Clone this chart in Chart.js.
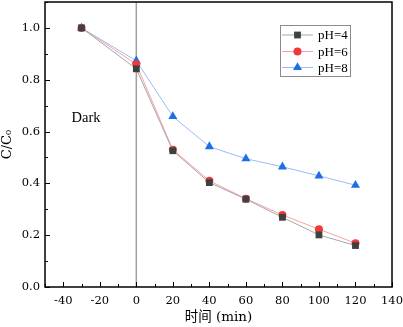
<!DOCTYPE html>
<html>
<head>
<meta charset="utf-8">
<script src="https://cdn.jsdelivr.net/npm/chart.js@4"></script>
<style>
  html, body { margin: 0; padding: 0; background: #fff; }
  #wrap { width: 403px; height: 327px; }
</style>
</head>
<body>
<div id="wrap"><canvas id="chart" width="403" height="327"></canvas></div>
<script>
// time points (min)
const times = [-30, 0, 20, 40, 60, 80, 100, 120];

// C/C0 for each pH
const ph4 = [1.0, 0.842, 0.526, 0.403, 0.339, 0.269, 0.201, 0.160];
const ph6 = [1.0, 0.860, 0.530, 0.410, 0.341, 0.278, 0.223, 0.169];
const ph8 = [1.0, 0.873, 0.658, 0.542, 0.495, 0.464, 0.429, 0.393];

const seriesLabels = ['pH=4', 'pH=6', 'pH=8'];
const xTicks = [-40, -20, 0, 20, 40, 60, 80, 100, 120, 140];
const yTicks = [0, 0.2, 0.4, 0.6, 0.8, 1.0];

const serif = '"DejaVu Serif", "Noto Sans CJK SC", serif';
const times_ = '"Liberation Serif", serif';

function toPoints(vals) {
    return times.map((t, i) => ({x: t, y: vals[i]}));
}

function noPad(s) {
    s.paddingTop = 0;
    s.paddingBottom = 0;
    s.paddingLeft = 0;
    s.paddingRight = 0;
}

// inside ticks, frame, the t=0 line, "Dark" label and legend
const decor = {
    id: 'decor',
    beforeDatasetsDraw(chart) {
        const {ctx, chartArea: a, scales: {x, y}} = chart;
        ctx.save();
        // divider at t = 0
        const x0 = x.getPixelForValue(0);
        ctx.strokeStyle = '#a0a0a0';
        ctx.lineWidth = 1.5;
        ctx.beginPath();
        ctx.moveTo(x0, a.top);
        ctx.lineTo(x0, a.bottom);
        ctx.stroke();

        ctx.fillStyle = '#000';
        ctx.font = '14.5px ' + times_;
        ctx.textAlign = 'left';
        ctx.textBaseline = 'middle';
        ctx.fillText('Dark', x.getPixelForValue(-35.5), y.getPixelForValue(0.652));
        ctx.restore();
    },
    afterDraw(chart) {
        const {ctx, chartArea: a, scales: {x, y}} = chart;
        ctx.save();
        ctx.strokeStyle = '#000';
        ctx.lineWidth = 1.5;
        ctx.strokeRect(a.left, a.top, a.right - a.left, a.bottom - a.top);

        ctx.lineWidth = 1;
        ctx.beginPath();
        for (let v = -50; v <= 140; v += 10) {
            const px = Math.round(x.getPixelForValue(v)) + 0.5;
            const len = v % 20 === 0 ? 5 : 3;
            ctx.moveTo(px, a.bottom);
            ctx.lineTo(px, a.bottom - len);
        }
        for (let k = 0; k <= 11; k++) {
            const v = k / 10;
            const py = Math.round(y.getPixelForValue(v)) + 0.5;
            const len = k % 2 === 0 ? 5 : 3;
            ctx.moveTo(a.left, py);
            ctx.lineTo(a.left + len, py);
        }
        ctx.stroke();

        // legend
        const bx = 280, by = 25, bw = 70, bh = 51;
        ctx.fillStyle = '#fff';
        ctx.fillRect(bx, by, bw, bh);
        ctx.strokeStyle = '#8c8c8c';
        ctx.lineWidth = 1;
        ctx.strokeRect(bx + 0.5, by + 0.5, bw, bh);
        const rows = [35, 51.5, 67.5];
        chart.data.datasets.forEach((ds, i) => {
            const ry = rows[i];
            ctx.strokeStyle = ds.borderColor;
            ctx.lineWidth = 1;
            ctx.beginPath();
            ctx.moveTo(282, ry);
            ctx.lineTo(313, ry);
            ctx.stroke();
            ctx.fillStyle = ds.pointBackgroundColor;
            ctx.strokeStyle = ds.pointBackgroundColor;
            Chart.helpers.drawPoint(ctx, {
                pointStyle: ds.pointStyle,
                radius: ds.pointRadius,
                borderWidth: 0
            }, 297.5, ry);
            ctx.fillStyle = '#000';
            ctx.font = '13px ' + times_;
            ctx.textAlign = 'left';
            ctx.textBaseline = 'middle';
            ctx.fillText(ds.label, 318, ry + 1);
        });
        ctx.restore();
    }
};

const markerColors = ['#404040', '#f03a3a', '#1c6fe6'];
const lineColors = ['#a6a6a6', '#f6a3a3', '#97bdf2'];
const styles = ['rect', 'circle', 'triangle'];
const radii = [4.8, 4, 5.2];

new Chart(document.getElementById('chart'), {
    type: 'line',
    data: {
        datasets: [ph4, ph6, ph8].map((vals, i) => ({
            label: seriesLabels[i],
            data: toPoints(vals),
            borderColor: lineColors[i],
            borderWidth: 1,
            pointStyle: styles[i],
            pointRadius: radii[i],
            pointBackgroundColor: markerColors[i],
            pointBorderColor: markerColors[i],
            pointBorderWidth: 0,
            tension: 0
        }))
    },
    options: {
        responsive: false,
        animation: false,
        events: [],
        layout: {autoPadding: false, padding: {top: 2, right: 11, left: 0, bottom: 0}},
        plugins: {legend: {display: false}, tooltip: {enabled: false}},
        scales: {
            x: {
                type: 'linear',
                min: -50,
                max: 140,
                afterFit(s) { s.height = 40; noPad(s); },
                afterBuildTicks(s) {
                    s.ticks = xTicks.map(v => ({value: v}));
                },
                grid: {display: false, drawTicks: false},
                border: {display: false},
                ticks: {
                    color: '#000',
                    padding: 7,
                    maxRotation: 0,
                    font: {family: serif, size: 11.5}
                },
                title: {
                    display: true,
                    text: '时间 (min)',
                    color: '#000',
                    padding: {top: 0, bottom: 1},
                    font: {family: serif, size: 13.5}
                }
            },
            y: {
                min: 0,
                max: 1.1,
                afterFit(s) { s.width = 45; noPad(s); },
                afterBuildTicks(s) {
                    s.ticks = yTicks.map(v => ({value: v}));
                },
                grid: {display: false, drawTicks: false},
                border: {display: false},
                ticks: {
                    color: '#000',
                    padding: 5,
                    font: {family: serif, size: 11.5},
                    callback: v => v.toFixed(1)
                },
                title: {
                    display: true,
                    text: 'C/C₀',
                    color: '#000',
                    padding: {top: 0, bottom: 0},
                    font: {family: serif, size: 13}
                }
            }
        }
    },
    plugins: [decor]
});
</script>
</body>
</html>
